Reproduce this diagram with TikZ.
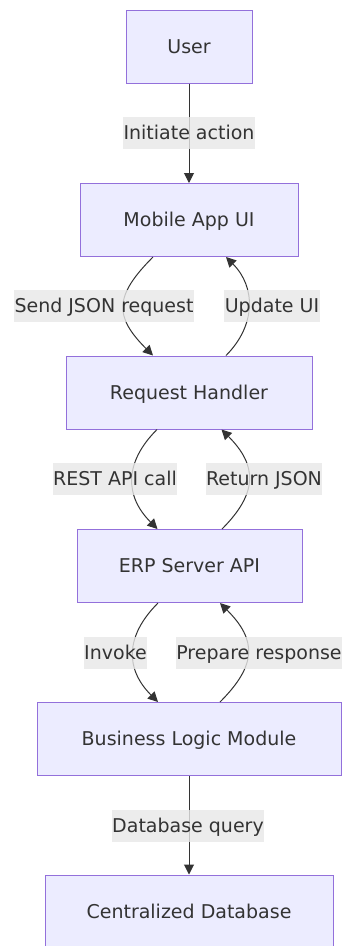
\documentclass[tikz,border=0pt]{standalone}
\usepackage{fontspec}
\setmainfont{DejaVu Sans}
\usetikzlibrary{arrows.meta}
\definecolor{boxfill}{HTML}{ECECFF}
\definecolor{boxline}{HTML}{9370DB}
\definecolor{ink}{HTML}{333333}
\definecolor{labelbg}{HTML}{E8E8E8}
\begin{document}
\begin{tikzpicture}[x=1pt,y=-1pt,
  font=\fontsize{19}{22}\selectfont,
  stage/.style={draw=boxline,line width=1pt,fill=boxfill,text=ink,
    minimum height=73pt,inner sep=0pt,text height=13.9pt,text depth=0pt},
  tag/.style={fill=labelbg,fill opacity=0.8,text opacity=1,text=ink,
    inner xsep=0.5pt,inner ysep=0pt,minimum height=32pt,
    text height=13.9pt,text depth=0pt},
  flow/.style={draw=ink,line width=1pt,-{Triangle[length=10pt,width=10pt]}}]
\useasboundingbox (0,0) rectangle (343,946);
\fill[white] (0,0) rectangle (343,946);

% process stages
\node[stage,minimum width=126pt] (user) at (189,46.5) {User};
\node[stage,minimum width=218pt] (app)  at (189,220) {Mobile App UI};
\node[stage,minimum width=246pt] (req)  at (189,392.5) {Request Handler};
\node[stage,minimum width=225pt] (erp)  at (189.5,566) {ERP Server API};
\node[stage,minimum width=304pt] (biz)  at (189,739) {Business Logic Module};
\node[stage,minimum width=288pt] (db)   at (189,911.5) {Centralized Database};

% straight connectors
\draw[flow] (user.south) -- (app.north);
\draw[flow] (biz.south) -- (db.north);

% request / response loops
\draw[flow] ([xshift=-36pt]app.south) .. controls +(-39,39) and +(-39,-39) .. ([xshift=-36pt]req.north);
\draw[flow] ([xshift=37pt]req.north) .. controls +(30,-30) and +(30,30) .. ([xshift=37pt]app.south);

\draw[flow] ([xshift=-32pt]req.south) .. controls +(-33,33) and +(-33,-33) .. ([xshift=-32pt]erp.north);
\draw[flow] ([xshift=32.5pt]erp.north) .. controls +(36,-36) and +(36,36) .. ([xshift=32.5pt]req.south);

\draw[flow] ([xshift=-31.5pt]erp.south) .. controls +(-33,33) and +(-33,-33) .. ([xshift=-31pt]biz.north);
\draw[flow] ([xshift=31pt]biz.north) .. controls +(37,-37) and +(37,37) .. ([xshift=30.5pt]erp.south);

% edge labels
\node[tag] (l1) at (189,133) {Initiate action};
\node[tag] (l2) at (104,306) {Send JSON request};
\node[tag] (l3) at (272,306) {Update UI};
\node[tag] (l4) at (115,479) {REST API call};
\node[tag] (l5) at (264,479) {Return JSON};
\node[tag] (l6) at (115.5,653) {Invoke};
\node[tag] (l7) at (259,653) {Prepare response};
\node[tag] (l8) at (188,825.5) {Database query};
\end{tikzpicture}
\end{document}
